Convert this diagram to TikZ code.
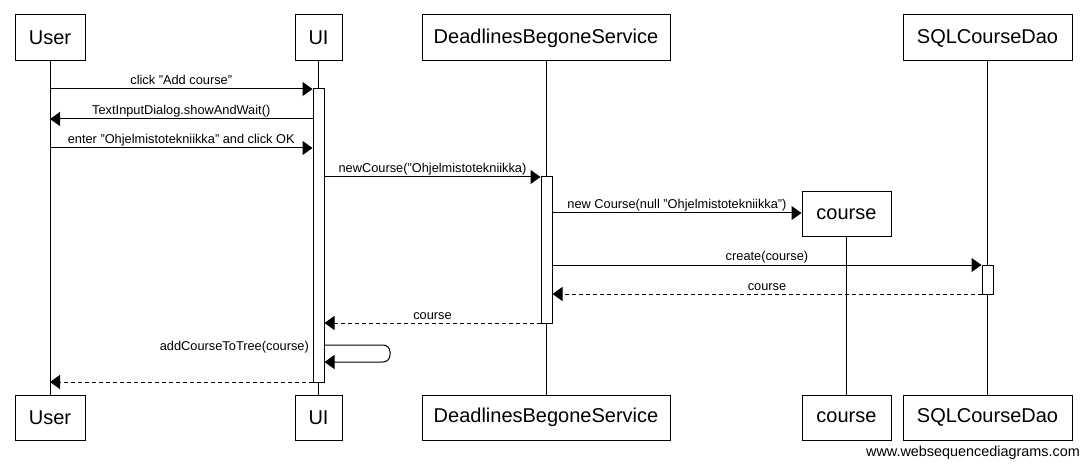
\documentclass[tikz,border=0pt]{standalone}
\usepackage{fontspec}
\setmainfont{Liberation Sans}
\usetikzlibrary{arrows.meta}
\begin{document}
\begin{tikzpicture}[x=1pt,y=-1pt,
 part/.style={draw, line width=1pt, fill=white, minimum height=46pt, inner sep=0pt, font=\fontsize{20}{24}\selectfont},
 act/.style={draw, line width=1pt, fill=white, minimum width=11pt, inner sep=0pt},
 life/.style={line width=1pt},
 msg/.style={line width=1pt, -{Triangle[length=10pt,width=14pt]}},
 ret/.style={msg, dash pattern=on 4pt off 3pt},
 lbl/.style={font=\fontsize{12.8}{15}\selectfont, inner sep=0pt, anchor=base, yshift=4pt}]
\fill[white] (0,0) rectangle (1087,465);
\useasboundingbox (0,0) rectangle (1087,465);
% top participants
\node[part, minimum width=70pt] (userT) at (50,38) {User};
\node[part, minimum width=47pt] (uiT) at (318.5,38) {UI};
\node[part, minimum width=248pt] (dbsT) at (546,38) {DeadlinesBegoneService};
\node[part, minimum width=169pt] (sqlT) at (987.5,38) {SQLCourseDao};
\node[part, minimum width=89pt, minimum height=45pt] (courseT) at (846.5,214.5) {course};
% bottom participants
\node[part, minimum width=70pt, minimum height=45pt] (userB) at (50,417.5) {User};
\node[part, minimum width=47pt, minimum height=45pt] (uiB) at (318.5,417.5) {UI};
\node[part, minimum width=248pt, minimum height=45pt] (dbsB) at (546,417.5) {DeadlinesBegoneService};
\node[part, minimum width=89pt, minimum height=45pt] (courseB) at (846.5,417.5) {course};
\node[part, minimum width=169pt, minimum height=45pt] (sqlB) at (987.5,417.5) {SQLCourseDao};
% lifelines
\draw[life] (userT) -- (userB);
\draw[life] (uiT) -- (uiB);
\draw[life] (dbsT) -- (dbsB);
\draw[life] (courseT) -- (courseB);
\draw[life] (sqlT) -- (sqlB);
% activations
\node[act, minimum height=293pt] (uiAct) at (318.5,235.5) {};
\node[act, minimum height=146pt] (dbsAct) at (546.5,250) {};
\node[act, minimum height=29pt] (sqlAct) at (987.5,279.5) {};
% messages
\draw[msg] (userT |- 0,89) -- node[lbl] (l1) {click "Add course"} (uiAct.west |- 0,89);
\draw[msg] (uiAct.west |- 0,119) -- node[lbl] (l2) {TextInputDialog.showAndWait()} (userT |- 0,119);
\draw[msg] (userT |- 0,148) -- node[lbl] (l3) {enter "Ohjelmistotekniikka" and click OK} (uiAct.west |- 0,148);
\draw[msg] (uiAct.east |- 0,177) -- node[lbl] (l4) {newCourse("Ohjelmistotekniikka)} (dbsAct.west |- 0,177);
\draw[msg] (dbsAct.east |- 0,213) -- node[lbl] (l5) {new Course(null "Ohjelmistotekniikka")} (courseT.west |- 0,213);
\draw[msg] (dbsAct.east |- 0,265) -- node[lbl] (l6) {create(course)} (sqlAct.west |- 0,265);
\draw[ret] (sqlAct.west |- 0,294) -- node[lbl] (l7) {course} (dbsAct.east |- 0,294);
\draw[ret] (dbsAct.west |- 0,323) -- node[lbl] (l8) {course} (uiAct.east |- 0,323);
\coordinate (selfA) at (390,345);
\coordinate (selfB) at (390,362);
\draw[msg, rounded corners=7pt] (uiAct.east |- selfA) -- (selfA) -- (selfB) -- (uiAct.east |- selfB);
\node[font=\fontsize{12.8}{15}\selectfont, inner sep=0pt, anchor=base east] (l9) at (309,350.5) {addCourseToTree(course)};
\draw[ret] (uiAct.west |- 0,382) -- (userT |- 0,382);
% watermark
\node[font=\fontsize{14.4}{17}\selectfont, inner sep=0pt, anchor=base east] (wm) at (1080,456) {www.websequencediagrams.com};
\end{tikzpicture}
\end{document}
